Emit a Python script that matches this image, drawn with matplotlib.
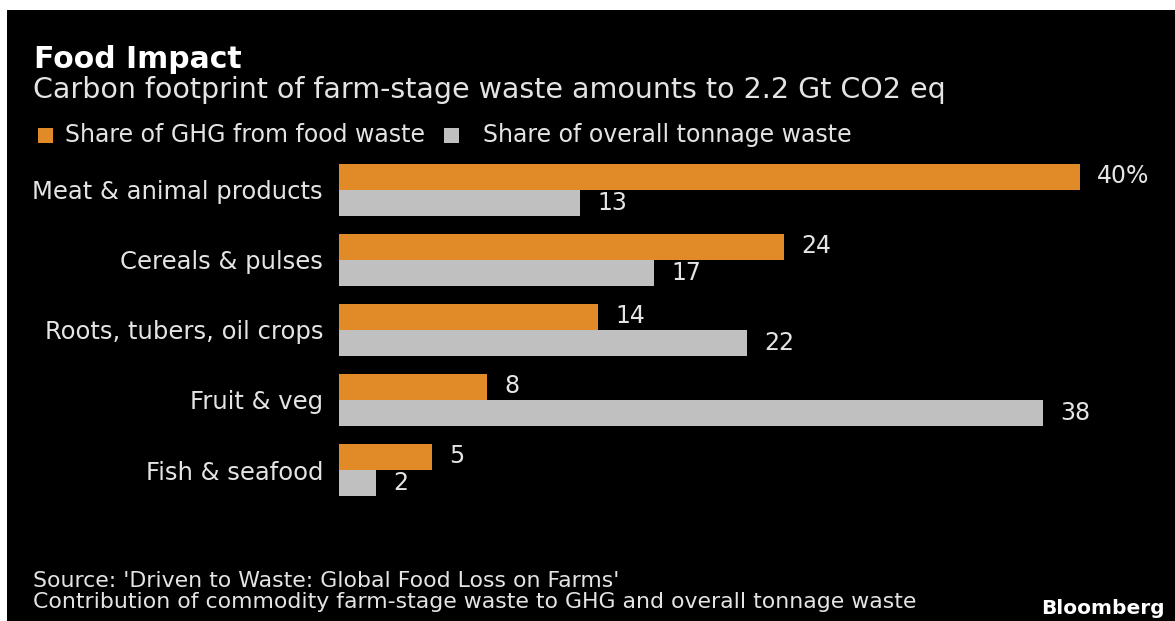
import matplotlib
matplotlib.use("Agg")
import matplotlib.pyplot as plt
from matplotlib.patches import Rectangle

# data
categories = ['Meat & animal products', 'Cereals & pulses', 'Roots, tubers, oil crops',
              'Fruit & veg', 'Fish & seafood']
ghg_share = [40, 24, 14, 8, 5]
tonnage_share = [13, 17, 22, 38, 2]

orange = '#E08A28'
grey = '#C0C0C0'
txt = '#E4E4E4'

W, H = 1175, 621
fig = plt.figure(figsize=(W / 100, H / 100), dpi=100, facecolor='white')

# black panel (thin white border at top and left in the original)
fig.patches.append(Rectangle((7 / W, 0), 1 - 7 / W, 1 - 10 / H, transform=fig.transFigure,
                             facecolor='black', edgecolor='none', zorder=-10))

def fx(px):
    return px / W

def fy(py):
    return 1 - py / H

# axes area in pixels: x 339 -> 1080 for 0 -> 40, y 164 -> 496
ax = fig.add_axes([fx(339), fy(496), fx(1080 - 339), (496 - 164) / H])
ax.set_facecolor('none')

n = len(categories)
pos = list(range(n))
bh = 26 / 70

ax.barh([p - bh / 2 for p in pos], ghg_share, height=bh, color=orange)
ax.barh([p + bh / 2 for p in pos], tonnage_share, height=bh, color=grey)

ax.set_xlim(0, 40)
ax.set_ylim(n - 1 + bh, -bh)

for i in range(n):
    lab = f'{ghg_share[i]}%' if i == 0 else str(ghg_share[i])
    ax.annotate(lab, (ghg_share[i], i - bh / 2), xytext=(12.5, 1), textcoords='offset points',
                va='center', ha='left', color=txt, fontsize=17)
    ax.annotate(str(tonnage_share[i]), (tonnage_share[i], i + bh / 2), xytext=(12.5, 0),
                textcoords='offset points', va='center', ha='left', color=txt, fontsize=17)

ax.set_yticks(pos)
ax.set_yticklabels(categories, color=txt, fontsize=17.5)
ax.tick_params(axis='y', length=0, pad=11.5)
ax.set_xticks([])
for s in ax.spines.values():
    s.set_visible(False)

# titles
fig.text(fx(34), fy(68.5), 'Food Impact', color='white', fontsize=21.5, fontweight='bold', va='baseline')
fig.text(fx(33), fy(98), 'Carbon footprint of farm-stage waste amounts to 2.2 Gt CO2 eq',
         color=txt, fontsize=20.5, va='baseline')

# legend
fig.patches.append(Rectangle((fx(38), fy(143)), fx(15), 15 / H, transform=fig.transFigure,
                             facecolor=orange, edgecolor='none'))
fig.text(fx(65), fy(142), 'Share of GHG from food waste', color=txt, fontsize=17, va='baseline')
fig.patches.append(Rectangle((fx(444), fy(143)), fx(15), 15 / H, transform=fig.transFigure,
                             facecolor=grey, edgecolor='none'))
fig.text(fx(483), fy(142), 'Share of overall tonnage waste', color=txt, fontsize=17, va='baseline')

# footer
fig.text(fx(33), fy(587), "Source: 'Driven to Waste: Global Food Loss on Farms'",
         color=txt, fontsize=15.8, va='baseline')
fig.text(fx(33), fy(608), 'Contribution of commodity farm-stage waste to GHG and overall tonnage waste',
         color=txt, fontsize=15.8, va='baseline')
fig.text(fx(1165), fy(614), 'Bloomberg', color='white', fontsize=14.5, fontweight='bold',
         ha='right', va='baseline')

fig.savefig('out.png', dpi=100, facecolor=fig.get_facecolor())
